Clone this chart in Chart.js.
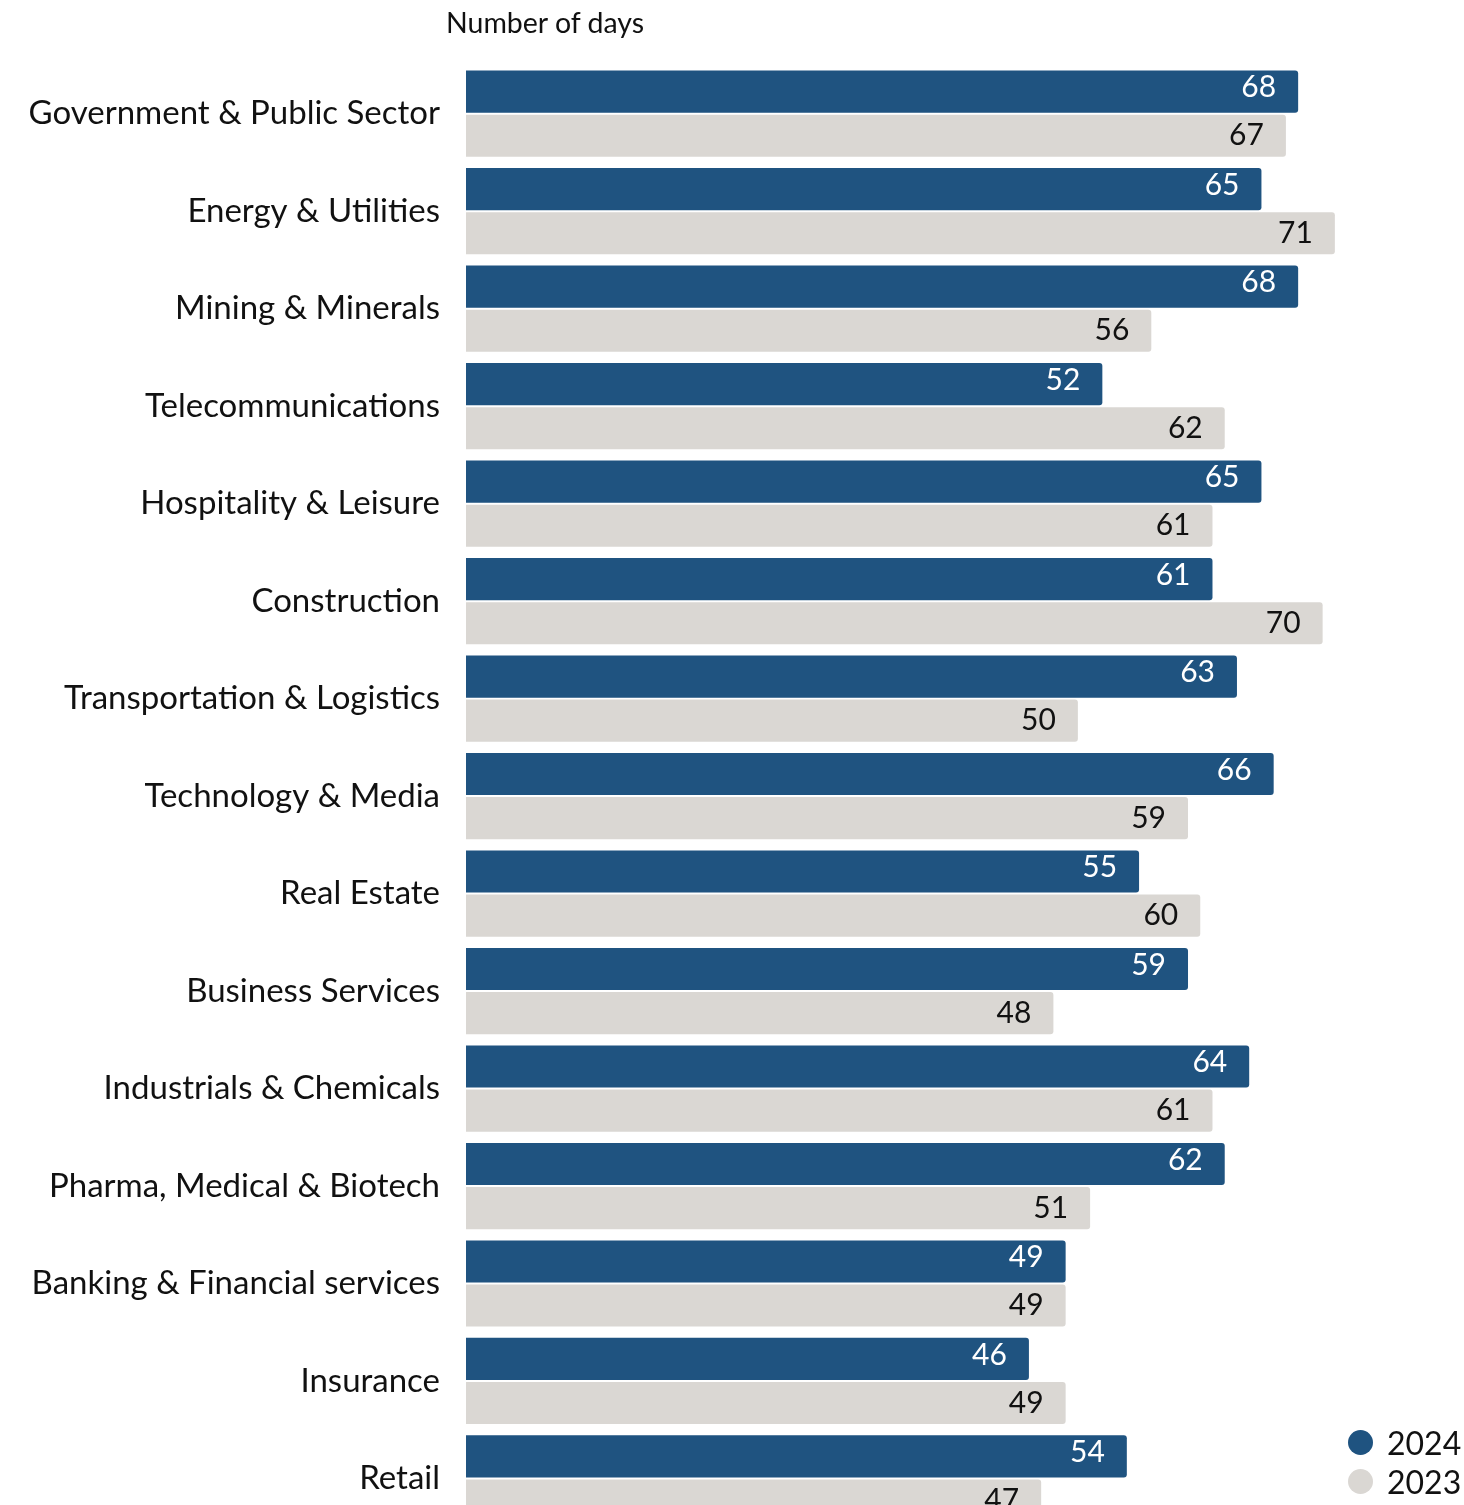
<!DOCTYPE html>
<html>
<head>
<meta charset="utf-8">
<script src="https://cdn.jsdelivr.net/npm/chart.js@4.4.1/dist/chart.umd.min.js"></script>
<style>
    html, body { margin: 0; padding: 0; background: #fff; overflow: hidden; }
    #wrap { position: relative; width: 1464px; height: 1565px; }
    #chart { display: block; }
    #title { position: absolute; left: 446px; top: 5px; font: 28.5px Lato, sans-serif; color: #111; }
    #legend { position: absolute; left: 1348px; top: 1423px; font: 32px Lato, sans-serif; color: #111; }
    #legend div { display: flex; align-items: center; height: 39px; }
    #legend span { display: inline-block; width: 25px; height: 25px; border-radius: 50%; margin-right: 14px; }
</style>
</head>
<body>
<div id="wrap">
    <canvas id="chart" width="1464" height="1565"></canvas>
    <div id="title">Number of days</div>
    <div id="legend">
        <div><span style="background:#1f5380"></span>2024</div>
        <div><span style="background:#dad7d3"></span>2023</div>
    </div>
</div>
<script>
const categories = [
    'Government & Public Sector', 'Energy & Utilities', 'Mining & Minerals',
    'Telecommunications', 'Hospitality & Leisure', 'Construction',
    'Transportation & Logistics', 'Technology & Media', 'Real Estate',
    'Business Services', 'Industrials & Chemicals', 'Pharma, Medical & Biotech',
    'Banking & Financial services', 'Insurance', 'Retail'
];
const days2024 = [68, 65, 68, 52, 65, 61, 63, 66, 55, 59, 64, 62, 49, 46, 54];
const days2023 = [67, 71, 56, 62, 61, 70, 50, 59, 60, 48, 61, 51, 49, 49, 47];

const BLUE = '#1f5380';
const GREY = '#dad7d3';

// draws the value at the end of each bar, inside it
const valueLabels = {
    id: 'valueLabels',
    afterDatasetsDraw(chart) {
        const ctx = chart.ctx;
        ctx.save();
        ctx.font = '30px Lato, sans-serif';
        ctx.textAlign = 'right';
        ctx.textBaseline = 'middle';
        chart.data.datasets.forEach((ds, di) => {
            const meta = chart.getDatasetMeta(di);
            ctx.fillStyle = di === 0 ? '#fff' : '#111';
            meta.data.forEach((bar, i) => {
                ctx.fillText(ds.data[i], bar.x - 22, bar.y + (di === 0 ? -4 : 0));
            });
        });
        ctx.restore();
    }
};

new Chart(document.getElementById('chart'), {
    type: 'bar',
    data: {
        labels: categories,
        datasets: [
            { label: '2024', data: days2024, backgroundColor: BLUE, borderRadius: 3 },
            { label: '2023', data: days2023, backgroundColor: GREY, borderRadius: 3 }
        ]
    },
    options: {
        indexAxis: 'y',
        responsive: false,
        animation: false,
        categoryPercentage: 0.905,
        barPercentage: 0.955,
        layout: { padding: { top: 65, bottom: 3, left: 0, right: 19 } },
        plugins: {
            legend: { display: false },
            tooltip: { enabled: false }
        },
        scales: {
            x: { display: false, min: 0, max: 80 },
            y: {
                grid: { display: false },
                border: { display: false },
                ticks: {
                    color: '#111',
                    padding: 18,
                    font: { family: 'Lato', size: 33 }
                },
                afterFit(scale) { scale.width = 466; }
            }
        }
    },
    plugins: [valueLabels]
});
</script>
</body>
</html>
